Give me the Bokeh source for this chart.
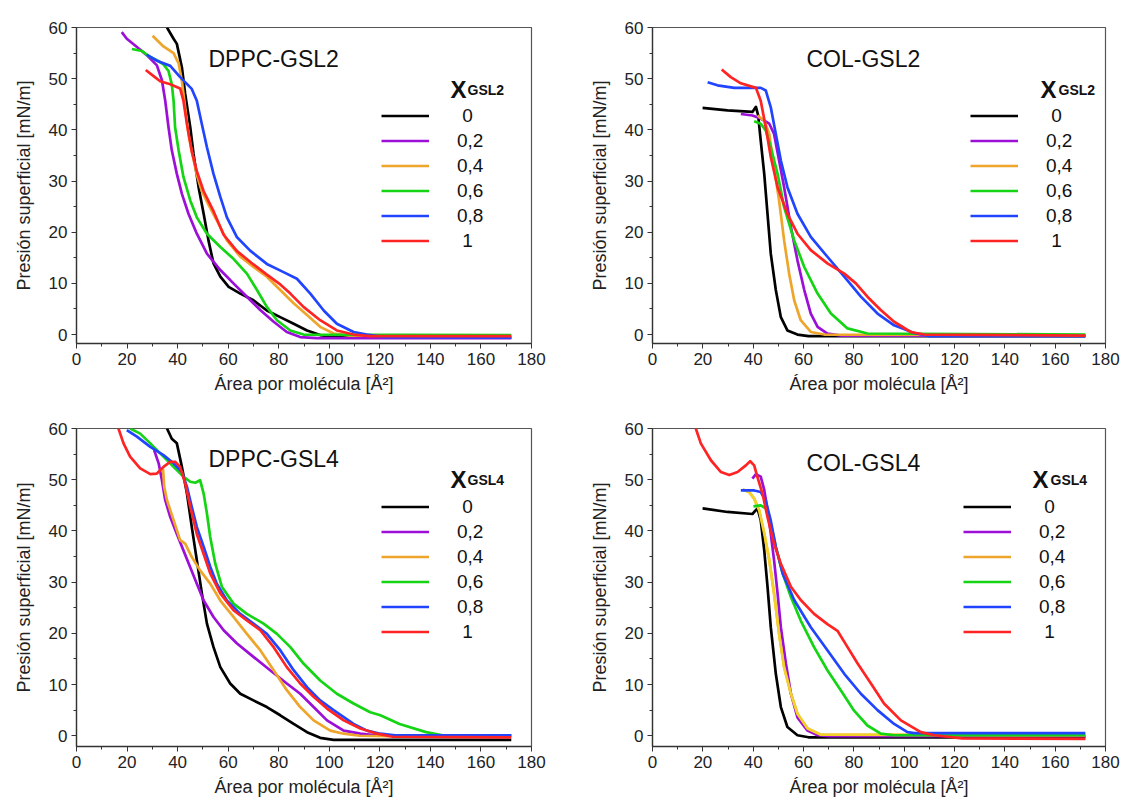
from bokeh.plotting import figure
from bokeh.models import Label, Legend, LegendItem, FixedTicker, Range1d
from bokeh.layouts import column, row
from bokeh.embed import file_html
from bokeh.resources import INLINE

FONT = "Liberation Sans"

# ---- ticks / labels ----
X_TICKS = [0, 20, 40, 60, 80, 100, 120, 140, 160, 180]
X_MINOR = [10, 30, 50, 70, 90, 110, 130, 150, 170]
Y_TICKS = [0, 10, 20, 30, 40, 50, 60]
Y_MINOR = [5, 15, 25, 35, 45, 55]
FRACTION_LABELS = ["\u20080", "0,2", "0,4", "0,6", "0,8", "\u20081"]
X_LABEL = "Área por molécula [Å²]"
Y_LABEL = "Presión superficial [mN/m]"

BLACK = "#000000"
PURPLE = "#9B0FD6"
ORANGE = "#EEA52C"
YELLOW = "#F2D22A"
GREEN = "#14D414"
BLUE = "#2145FF"
RED = "#FF2424"

# ---- DPPC-GSL2 ----
dppc2_x0 = [35.8, 38.4, 39.7, 41.7, 43, 45, 46.3, 48.3, 50.3, 52.2, 54.2, 56.9, 60.2, 64.8, 70, 75.3, 80.6, 85.9, 91.2, 96.4, 101, 110, 172]
dppc2_y0 = [60, 57.8, 56.8, 52.2, 47, 40.5, 35.3, 28.8, 23.6, 18.4, 13.9, 11.3, 9.3, 8.0, 6.7, 4.7, 3.4, 2.1, 0.8, -0.1, -0.4, -0.6, -0.6]
dppc2_x2 = [17.9, 19.9, 23.9, 27.8, 31.8, 33.8, 35.1, 36.4, 37.7, 39.7, 41.7, 44.3, 47.6, 51.6, 56.9, 62.1, 67.4, 72.7, 78, 83.2, 88.5, 95, 172]
dppc2_y2 = [59.1, 57.8, 56.2, 54.6, 52.6, 49.7, 45.7, 40.5, 36, 31.4, 27.5, 23.6, 19.7, 15.8, 12.6, 10, 7.4, 4.8, 2.5, 0.5, -0.5, -0.7, -0.7]
dppc2_x4 = [30.1, 34.4, 38.4, 40.4, 41.7, 43, 44.3, 45.6, 47.6, 49.6, 52.2, 55.5, 59.5, 64.8, 70, 75.3, 80.6, 85.9, 91.2, 96.4, 101.7, 108, 172]
dppc2_y4 = [58.4, 56.3, 55, 53, 49.5, 44.3, 39.1, 35.8, 31.2, 28, 25.4, 22.3, 18.4, 15.2, 13.2, 11.3, 8.7, 6.1, 3.8, 1.5, 0.2, -0.2, -0.2]
dppc2_x6 = [21.9, 25.9, 28.5, 31.8, 34.4, 36.4, 37.7, 38.4, 39, 40.4, 42.3, 45, 47.6, 51.6, 56.9, 62.1, 67.4, 71.4, 75.3, 79.3, 84.6, 89.8, 172]
dppc2_y6 = [55.8, 55.4, 54.4, 53.6, 52.8, 51.5, 48.9, 45.7, 40.5, 36, 30.8, 26.2, 22.9, 19.7, 17.1, 14.8, 11.9, 8.7, 5.4, 2.8, 0.8, 0.0, -0.1]
dppc2_x8 = [27.8, 31.8, 37.1, 41, 45.6, 47.6, 49.6, 51.6, 54.2, 56.9, 59.5, 63.5, 68.7, 75.3, 81.9, 87.2, 92.5, 97.8, 103, 109.6, 114.9, 122, 172]
dppc2_y8 = [54.7, 53.5, 52.5, 50.3, 48, 45.7, 41.1, 36.6, 31.4, 26.9, 22.9, 19, 16.4, 13.8, 12.2, 10.9, 8, 4.7, 2.1, 0.5, 0, -0.5, -0.6]
dppc2_x10 = [27.4, 30.5, 33.1, 37.1, 41, 42.3, 43.7, 45.6, 47.6, 50.3, 54.2, 58.2, 63.5, 70, 75.3, 80.6, 84.6, 89.8, 96.4, 103, 109.6, 116, 172]
dppc2_y10 = [51.7, 50.5, 49.5, 48.9, 48.1, 45.7, 41.1, 35.8, 31.9, 28, 24.1, 19.5, 16.3, 13.7, 11.7, 9.8, 8, 5.4, 2.8, 0.8, 0, -0.3, -0.3]

# ---- COL-GSL2 ----
col2_x0 = [19.9, 29.8, 39.7, 41.1, 42, 43, 44.4, 45.7, 47, 49, 51, 53.6, 57.6, 62, 172]
col2_y0 = [44.3, 43.8, 43.5, 44.5, 42.8, 37.9, 31.4, 23.6, 15.8, 8.7, 3.4, 0.8, 0, -0.3, -0.3]
col2_x2 = [35.1, 39.7, 43, 46.4, 48.3, 50.3, 52.3, 55, 57.6, 60.3, 62.9, 65.6, 69.5, 75, 172]
col2_y2 = [43.1, 42.8, 42.2, 41.2, 39.2, 34, 28.8, 21, 14.5, 8.7, 4.1, 1.5, 0.2, -0.2, -0.2]
col2_x4 = [41.7, 44.4, 46.4, 48.3, 50.3, 52.3, 54.3, 56.3, 58.9, 62.9, 68.2, 172]
col2_y4 = [42.8, 41.8, 39.2, 32.7, 26.2, 18.4, 11.9, 6.7, 2.8, 0.5, 0, -0.1]
col2_x6 = [40.4, 43, 45, 47, 49.7, 52.3, 56.3, 60.3, 65.6, 70.9, 77.5, 85.4, 172]
col2_y6 = [41.7, 41.2, 39.9, 36.6, 31.4, 24.9, 18.4, 13.2, 8, 4.1, 1.2, 0.2, 0.0]
col2_x8 = [21.9, 25.8, 32.5, 37.7, 43, 45, 47, 49, 51, 53.6, 57.6, 62.9, 69.5, 76.2, 82.8, 89.4, 96, 104, 110, 172]
col2_y8 = [49.3, 48.7, 48.2, 48.2, 48.2, 47.7, 44.4, 39.2, 34, 28.8, 23.6, 19.1, 15.2, 11.3, 7.4, 4.1, 1.8, 0.3, -0.3, -0.3]
col2_x10 = [27.5, 31.1, 35.1, 41.1, 43, 45, 47, 49.7, 53.6, 57.6, 62.9, 69.5, 76.2, 80.8, 85.4, 90.7, 96, 102.6, 108, 172]
col2_y10 = [51.8, 50.3, 49.1, 48.2, 45.7, 40.5, 34.7, 28.8, 23.6, 19.7, 16.5, 13.9, 11.9, 10, 7.4, 4.8, 2.5, 0.5, 0, -0.2]

# ---- DPPC-GSL4 ----
dppc4_x0 = [35.8, 37.7, 39.7, 41.7, 43.7, 45.6, 47.6, 49.6, 51.6, 54.2, 56.9, 60.8, 64.8, 70, 75.3, 80.6, 85.9, 91.2, 96.4, 101.7, 172]
dppc4_y0 = [60, 58, 57.1, 52.5, 47.3, 40.8, 34.3, 27.8, 21.9, 17.3, 13.4, 10.2, 8.2, 6.9, 5.6, 4, 2.3, 0.7, -0.4, -0.8, -0.8]
dppc4_x2 = [30.7, 32.5, 33.8, 35.1, 37.1, 39.7, 42.3, 44.9, 47.6, 50.3, 54.2, 58.2, 63.5, 70, 76.6, 83.2, 88.5, 93.8, 99.1, 105.7, 112.3, 120, 172]
dppc4_y2 = [55.8, 53.2, 49.9, 46, 42.7, 39.4, 36.2, 33, 29.7, 26.4, 23.2, 20.6, 18, 15.4, 12.8, 10.2, 8.2, 5.6, 3, 1, 0.4, 0, 0]
dppc4_x4 = [34.2, 34.7, 35.8, 38.4, 41, 43, 45.6, 48.9, 52.9, 56.9, 62.1, 67.4, 72.7, 78, 83.2, 88.5, 93.8, 100.4, 105.7, 112, 124]
dppc4_y4 = [52.2, 48.6, 46, 42.1, 38.2, 37.5, 34.9, 32.3, 29.7, 26.4, 23.2, 19.9, 16.7, 12.8, 8.9, 5.6, 3, 1, 0.4, 0, -0.1]
dppc4_x6 = [21.2, 25.2, 29.2, 34.4, 38.4, 42.3, 45, 47, 48.9, 50.3, 51.6, 52.9, 54.9, 57.5, 62.1, 67.4, 74, 79.3, 84.6, 89.8, 96.4, 103, 109.6, 116.2, 120.2, 127.8, 138.3, 144.8, 172]
dppc4_y6 = [60, 59, 57.1, 54.5, 52.5, 50.6, 49.6, 49.4, 49.9, 47.3, 43.4, 38.8, 33.6, 29.1, 25.8, 23.8, 21.9, 19.9, 17.3, 14.1, 10.8, 8.2, 6.3, 4.6, 4.0, 2.3, 0.7, 0.1, 0.1]
dppc4_x8 = [19.9, 23.9, 29.2, 34.4, 38.4, 41.7, 43.7, 45.6, 47.6, 50.3, 52.9, 55.5, 59.5, 64.8, 70, 75.3, 80.6, 85.9, 91.2, 96.4, 101.7, 109.6, 114.9, 120.2, 126, 172]
dppc4_y8 = [59.7, 58.4, 56.4, 54.8, 53.2, 51.5, 48.6, 44.7, 40.8, 36.9, 33, 29.7, 26.4, 23.8, 21.9, 19.9, 16.7, 12.8, 9.5, 6.9, 5, 2.3, 1, 0.4, 0.1, 0.1]
dppc4_x10 = [16.6, 18.6, 21.2, 25.2, 29.2, 31.8, 34.4, 37.1, 39, 41, 43, 45, 47.6, 50.3, 52.9, 56.9, 62.1, 67.4, 72.7, 78, 83.2, 88.5, 93.8, 99.1, 105.7, 112.3, 118.9, 125, 172]
dppc4_y10 = [60, 57.1, 54.5, 52.2, 51.1, 51.2, 52.5, 53.5, 53.5, 52.5, 49.3, 44.7, 39.4, 35.5, 31.7, 27.8, 24.5, 22.5, 20.6, 17.3, 13.4, 10.2, 7.6, 5.3, 3, 1.4, 0.4, -0.2, -0.3]

# ---- COL-GSL4 ----
col4_x0 = [19.9, 29.8, 39.7, 41.7, 43, 44.4, 45.7, 47, 49, 51, 53.6, 57.6, 62, 172]
col4_y0 = [44.4, 43.7, 43.3, 44.4, 42.1, 36.2, 29.1, 21.2, 12.1, 5.6, 1.7, 0.1, -0.3, -0.3]
col4_x2 = [39.7, 41.1, 43, 44.4, 45.7, 47, 48.3, 49.7, 51, 53, 55, 57.6, 61.6, 65.6, 70, 172]
col4_y2 = [50.2, 51.1, 50.6, 48, 44.1, 39.5, 34.3, 27.8, 21.2, 14.1, 8.2, 3.6, 1, 0.1, -0.1, -0.1]
col4_x4 = [35.8, 38.4, 40.4, 42.4, 44.4, 46.4, 48.3, 50.3, 52.3, 55, 57.6, 61.6, 66.9, 172]
col4_y4 = [48.1, 47.6, 46.3, 44, 39.5, 34.3, 27.8, 19.9, 13.4, 8.2, 4.3, 1.4, 0.2, 0.1]
col4_x6 = [40.1, 43, 45, 47, 49, 51.7, 55, 58.9, 64.2, 69.5, 74.8, 80.1, 85.4, 90.7, 96, 172]
col4_y6 = [44.8, 45, 44.4, 41.4, 36.9, 31.7, 27.1, 22.5, 17.3, 12.8, 8.9, 4.9, 2, 0.4, 0.1, 0.1]
col4_x8 = [35.1, 40.4, 43, 45, 47, 49, 51.7, 56.3, 62.9, 69.5, 76.2, 82.8, 89.4, 96, 101.3, 104, 172]
col4_y8 = [47.9, 47.9, 47.6, 45.9, 42, 36.9, 31.7, 26.5, 21.2, 16.7, 12.1, 8.2, 5, 2.3, 0.7, 0.5, 0.5]
col4_x10 = [17.2, 19.2, 23.2, 27.2, 30.5, 33.8, 37.1, 38.8, 40.4, 41.7, 43.7, 45.7, 48.3, 51, 55, 58.9, 64.2, 69.5, 73.5, 77.5, 81.5, 86.8, 92, 98.7, 106.6, 112, 123, 172]
col4_y10 = [60, 57.1, 53.8, 51.5, 50.9, 51.5, 52.8, 53.6, 52.8, 50.5, 47.3, 42.7, 37.5, 33.6, 29.1, 26.5, 23.8, 21.8, 20.5, 17.3, 14.1, 10.2, 6.3, 3, 0.7, 0.1, -0.5, -0.6]


def make_panel(series, line_colors, legend_colors, title, sub,
               width, height, bl, br, bt, bb, ymin,
               title_xy, leg_xy, head_xy, head_sub_dx):
    p = figure(width=width, height=height, output_backend="svg",
               toolbar_location=None,
               x_range=Range1d(0, 180), y_range=Range1d(ymin, 60),
               min_border_left=bl, min_border_right=br,
               min_border_top=bt, min_border_bottom=bb)
    p.xgrid.visible = False
    p.ygrid.visible = False
    p.outline_line_color = "#555555"
    p.outline_line_width = 1.2
    p.background_fill_color = "white"
    p.border_fill_color = "white"
    p.xaxis.ticker = FixedTicker(ticks=X_TICKS, minor_ticks=X_MINOR)
    p.yaxis.ticker = FixedTicker(ticks=Y_TICKS, minor_ticks=Y_MINOR)
    for ax in (p.xaxis[0], p.yaxis[0]):
        ax.axis_line_color = "#333333"
        ax.axis_line_width = 1.3
        ax.major_tick_line_color = "#333333"
        ax.minor_tick_line_color = "#333333"
        ax.major_tick_in = 0
        ax.major_tick_out = 5
        ax.minor_tick_in = 0
        ax.minor_tick_out = 3
        ax.major_label_text_font = FONT
        ax.major_label_text_font_size = "17px"
        ax.major_label_text_color = "#222222"
        ax.axis_label_text_font = FONT
        ax.axis_label_text_font_size = "18px"
        ax.axis_label_text_font_style = "normal"
        ax.axis_label_text_color = "#222222"
    p.xaxis.axis_label = X_LABEL
    p.yaxis.axis_label = Y_LABEL
    p.xaxis.major_label_standoff = 4
    p.xaxis.axis_label_standoff = 6
    p.yaxis.major_label_standoff = 4
    p.yaxis.axis_label_standoff = 12

    # legend-only swatch copies (drawn first, hidden beneath the real curves)
    swatches = {}
    for i, ((xs, ys), c, lc) in enumerate(zip(series, line_colors, legend_colors)):
        if lc != c:
            swatches[i] = p.line(xs, ys, line_color=lc, line_width=2.7)

    renderers = []
    for (xs, ys), c in zip(series, line_colors):
        r = p.line(xs, ys, line_color=c, line_width=2.7, line_join="round")
        renderers.append(r)

    items = []
    for i, (lab, r) in enumerate(zip(FRACTION_LABELS, renderers)):
        items.append(LegendItem(label=lab, renderers=[swatches.get(i, r)]))
    leg = Legend(items=items, location=leg_xy, padding=0, margin=0,
                 spacing=2, glyph_width=48, glyph_height=23, label_height=23,
                 label_standoff=28, label_text_font=FONT,
                 label_text_font_size="19px", label_text_color="#111111",
                 border_line_alpha=0, background_fill_alpha=0)
    p.add_layout(leg)

    p.add_layout(Label(x=title_xy[0], y=title_xy[1], x_units="screen", y_units="screen",
                       text=title, text_font=FONT, text_font_size="23px",
                       text_color="#111111", text_baseline="alphabetic"))
    p.add_layout(Label(x=head_xy[0], y=head_xy[1], x_units="screen", y_units="screen",
                       text="X", text_font=FONT, text_font_size="24px",
                       text_font_style="bold", text_color="#111111",
                       text_baseline="alphabetic"))
    p.add_layout(Label(x=head_xy[0] + head_sub_dx, y=head_xy[1], x_units="screen", y_units="screen",
                       text=sub, text_font=FONT, text_font_size="14px",
                       text_font_style="bold", text_color="#111111",
                       text_baseline="alphabetic"))
    return p


S1 = [(dppc2_x0, dppc2_y0), (dppc2_x2, dppc2_y2), (dppc2_x4, dppc2_y4),
      (dppc2_x6, dppc2_y6), (dppc2_x8, dppc2_y8), (dppc2_x10, dppc2_y10)]
S2 = [(col2_x0, col2_y0), (col2_x2, col2_y2), (col2_x4, col2_y4),
      (col2_x6, col2_y6), (col2_x8, col2_y8), (col2_x10, col2_y10)]
S3 = [(dppc4_x0, dppc4_y0), (dppc4_x2, dppc4_y2), (dppc4_x4, dppc4_y4),
      (dppc4_x6, dppc4_y6), (dppc4_x8, dppc4_y8), (dppc4_x10, dppc4_y10)]
S4 = [(col4_x0, col4_y0), (col4_x2, col4_y2), (col4_x4, col4_y4),
      (col4_x6, col4_y6), (col4_x8, col4_y8), (col4_x10, col4_y10)]

STD = [BLACK, PURPLE, ORANGE, GREEN, BLUE, RED]
ALT = [BLACK, PURPLE, YELLOW, GREEN, BLUE, RED]

p1 = make_panel(S1, STD, STD, "DPPC-GSL2", "GSL2", 562, 402, 76, 31, 27, 59, -1.75,
                (132, 285), (305, 91), (374, 254), 17)
p2 = make_panel(S2, STD, STD, "COL-GSL2", "GSL2", 561, 402, 90, 18, 27, 59, -1.75,
                (154, 285), (318, 91), (388, 254), 18)
p3 = make_panel(S3, STD, STD, "DPPC-GSL4", "GSL4", 562, 407, 76, 31, 26, 63, -2.1,
                (132, 288), (305, 103), (374, 267), 17)
p4 = make_panel(S4, ALT, STD, "COL-GSL4", "GSL4", 561, 407, 90, 18, 26, 63, -2.1,
                (154, 284), (311, 103), (380, 267), 18)

layout = column(row(p1, p2), row(p3, p4))
open("out.html", "w").write(file_html(layout, INLINE))
